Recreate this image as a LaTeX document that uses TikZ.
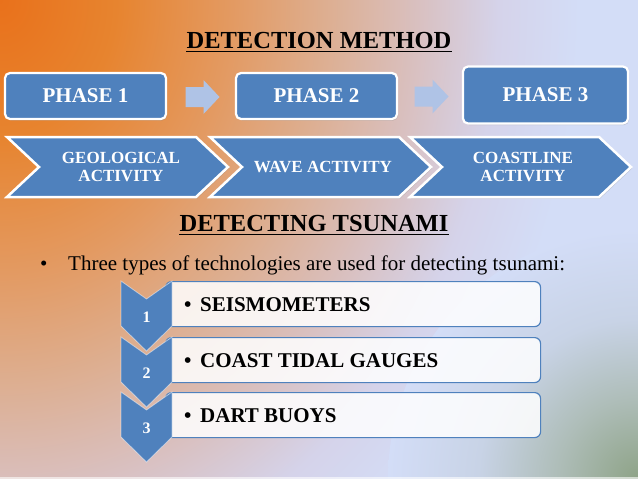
\documentclass[tikz,border=0pt]{standalone}
\usepackage{fontspec}
\setmainfont{Liberation Serif}
\usetikzlibrary{shadows,calc}
\definecolor{ablue}{HTML}{4F81BD}
\definecolor{bgbase}{HTML}{D3DDF7}
\definecolor{arrowc}{HTML}{AFC3E6}
\definecolor{cA}{HTML}{E9711B}
\definecolor{cB}{HTML}{E7842F}
\definecolor{cC}{HTML}{E39A62}
\definecolor{cD}{HTML}{DDAE90}
\definecolor{cE}{HTML}{D9C0C0}
\definecolor{cF}{HTML}{D5D3EA}
\definecolor{gA}{HTML}{8EA387}
\definecolor{gB}{HTML}{AEBDB8}
\definecolor{gC}{HTML}{C8D3E6}
\pgfdeclareradialshading{bgrad}{\pgfpoint{0bp}{0bp}}{color(0bp)=(cA); color(5bp)=(cB); color(10bp)=(cC); color(14bp)=(cD); color(18bp)=(cE); color(21.5bp)=(cF); color(25bp)=(bgbase); color(50bp)=(bgbase)}
\pgfdeclareradialshading{gcorner}{\pgfpoint{0bp}{0bp}}{color(0bp)=(gA); color(8bp)=(gB); color(16bp)=(gC); color(25bp)=(bgbase); color(50bp)=(bgbase)}
\begin{document}
\begin{tikzpicture}[x=1pt,y=-1pt,
  phasebox/.style={draw=white, line width=2.2pt, fill=ablue, rounded corners=5pt,
    text=white, font=\fontsize{21}{24}\selectfont\bfseries,
    drop shadow={shadow xshift=1pt, shadow yshift=-1.5pt, opacity=0.3}},
  chev/.style={draw=white, line width=2.5pt, fill=ablue, line join=miter,
    drop shadow={shadow xshift=1pt, shadow yshift=-1.5pt, opacity=0.3}},
  ctext/.style={text=white, font=\fontsize{17}{18}\selectfont\bfseries, align=center, inner sep=0pt},
  titletext/.style={font=\fontsize{24.5}{28}\selectfont\bfseries, inner sep=0pt},
  bodytext/.style={font=\fontsize{21}{25}\selectfont, inner sep=0pt},
  itembox/.style={draw=ablue, line width=1.2pt, fill=white, fill opacity=0.85, rounded corners=6pt, inner sep=0pt},
  vchev/.style={fill=ablue, draw=white, draw opacity=0.5, line width=0.8pt},
  itemtext/.style={font=\fontsize{21}{24}\selectfont\bfseries, inner sep=0pt},
  numtext/.style={text=white, font=\fontsize{16}{18}\selectfont\bfseries, inner sep=0pt},
  blockarrow/.style={fill=arrowc}
]
\useasboundingbox (0,0) rectangle (638,479);
% background
\fill[bgbase] (0,0) rectangle (638,479);
\begin{scope}
  \clip (0,0) rectangle (638,479);
  \shade[shading=bgrad] (0,0) ellipse [x radius=580, y radius=680];
  \shade[shading=gcorner] (638,479) circle (250);
  \fill[white, opacity=0.6] (0,477) rectangle (638,479);
\end{scope}

% title
\node[titletext, anchor=base] (t1) at (319,48) {DETECTION METHOD};
\draw[line width=1.6pt] ($(t1.base west)+(0,3.5)$) -- ($(t1.base east)+(0,3.5)$);

% phases
\node[phasebox, minimum width=161pt, minimum height=46pt] (p1) at (85.5,96) {PHASE 1};
\node[phasebox, minimum width=161pt, minimum height=46pt] (p2) at (316.5,96) {PHASE 2};
\node[phasebox, minimum width=165pt, minimum height=57pt] (p3) at (545.5,95) {PHASE 3};

\coordinate (m1) at ($(p1.east)!0.5!(p2.west)+(1.5,1)$);
\coordinate (m2) at ($(p2.east)!0.5!(p3.west)+(1.5,1)$);
\foreach \m in {m1,m2}{
  \fill[blockarrow] ($(\m)+(-17,-10)$) -- ++(18,0) -- ++(0,-7) -- ++(16,17) -- ++(-16,17) -- ++(0,-7) -- ++(-18,0) -- cycle;
}

% chevrons
\foreach \L in {7,210,410}{
  \path[chev] (\L,137) -- ++(189,0) -- ++(32,30) -- ++(-32,30) -- ++(-189,0) -- ++(32,-30) -- cycle;
}
\node[ctext] (g1) at (121,167) {GEOLOGICAL\\ACTIVITY};
\node[ctext] (g2) at (323,167) {WAVE ACTIVITY};
\node[ctext] (g3) at (523,167) {COASTLINE\\ACTIVITY};

% second title
\node[titletext, anchor=base] (t2) at (314,231) {DETECTING TSUNAMI};
\draw[line width=1.6pt] ($(t2.base west)+(0,3.5)$) -- ($(t2.base east)+(0,3.5)$);

\node[bodytext, anchor=base west] (b0) at (40,270) {\makebox[28pt][l]{•}Three types of technologies are used for detecting tsunami:};

% list
\foreach \T/\n/\txt in {281/1/SEISMOMETERS, 337/2/COAST TIDAL GAUGES, 392/3/DART BUOYS}{
  \node[itembox, minimum width=375pt, minimum height=45pt, anchor=north west] (box\n) at (165,\T) {};
  \path[vchev] (121,\T) -- (146.5,\T+18) -- (172,\T) -- (172,\T+45) -- (146.5,\T+70) -- (121,\T+45) -- cycle;
  \node[numtext, anchor=base] (num\n) at (146.5,\T+41) {\n};
  \node[itemtext, anchor=base west] (it\n) at (184,\T+30) {\makebox[16pt][l]{•}\txt};
}
\end{tikzpicture}
\end{document}
